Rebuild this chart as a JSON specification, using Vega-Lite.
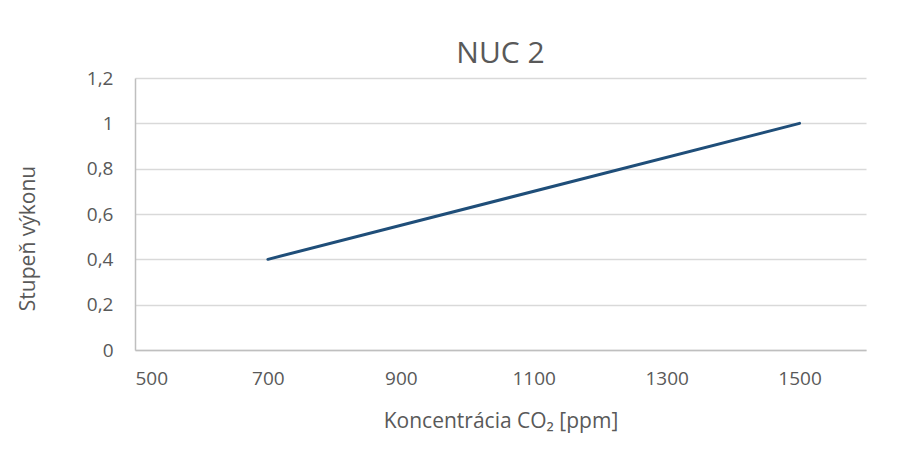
{
  "$schema": "https://vega.github.io/schema/vega-lite/v6.json",
  "autosize": "none",
  "width": 731,
  "height": 272,
  "padding": {"left": 135, "top": 78, "right": 43, "bottom": 100},
  "background": "white",
  "title": {
    "text": "NUC 2",
    "fontSize": 30,
    "font": "Open Sans",
    "fontWeight": "normal",
    "color": "#595959",
    "anchor": "middle",
    "offset": 0
  },
  "data": {
    "values": [
      {"co2": 700, "vykon": 0.4},
      {"co2": 1500, "vykon": 1.0}
    ]
  },
  "mark": {"type": "line", "color": "#1f4e79", "strokeWidth": 3, "strokeCap": "round"},
  "encoding": {
    "x": {
      "field": "co2",
      "type": "quantitative",
      "scale": {"domain": [500, 1600], "nice": false, "zero": false},
      "axis": {
        "title": "Koncentrácia CO₂ [ppm]",
        "values": [500, 700, 900, 1100, 1300, 1500],
        "format": "d",
        "grid": false,
        "ticks": false,
        "domain": true,
        "domainColor": "#bfbfbf",
        "domainWidth": 1.5,
        "labelPadding": 19,
        "titlePadding": 22
      }
    },
    "y": {
      "field": "vykon",
      "type": "quantitative",
      "scale": {"domain": [0, 1.2], "nice": false},
      "axis": {
        "title": "Stupeň výkonu",
        "values": [0, 0.2, 0.4, 0.6, 0.8, 1, 1.2],
        "labelExpr": "replace(format(datum.value, '.1~f'), '.', ',')",
        "grid": true,
        "gridColor": "#d9d9d9",
        "gridWidth": 1.5,
        "ticks": false,
        "domain": true,
        "domainColor": "#bfbfbf",
        "domainWidth": 1.5,
        "labelPadding": 22,
        "titleX": -107,
        "titleY": 160,
        "titleAlign": "center",
        "titleBaseline": "middle"
      }
    }
  },
  "config": {
    "view": {"stroke": null},
    "axis": {
      "labelFont": "Open Sans",
      "labelFontSize": 19,
      "labelColor": "#595959",
      "titleFont": "Open Sans",
      "titleFontSize": 21,
      "titleFontWeight": "normal",
      "titleColor": "#595959"
    }
  }
}
